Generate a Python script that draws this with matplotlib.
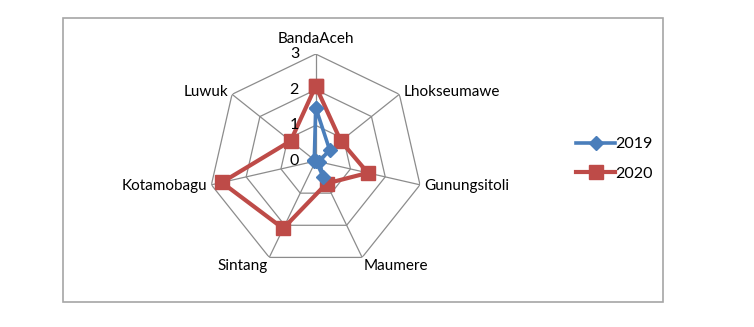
import numpy as np
import matplotlib
matplotlib.use("Agg")
import matplotlib.pyplot as plt
from matplotlib.patches import Rectangle

# data
categories = ["BandaAceh", "Lhokseumawe", "Gunungsitoli", "Maumere",
              "Sintang", "Kotamobagu", "Luwuk"]
values_2019 = [1.5, 0.5, 0.1, 0.5, 0.0, 0.05, 0.05]
values_2020 = [2.1, 0.9, 1.5, 0.7, 2.1, 2.7, 0.9]
rings = [0, 1, 2, 3]

plt.rcParams['font.family'] = ['Lato', 'DejaVu Sans']

n = len(categories)
angles = np.linspace(0, 2 * np.pi, n, endpoint=False)
closed = np.append(angles, angles[0])

fig = plt.figure(figsize=(7.54, 3.27), dpi=100)
fig.patch.set_facecolor("white")

# outer border of the chart area
fig.patches.append(Rectangle((63 / 754, 25 / 327), 600 / 754, 284 / 327,
                             transform=fig.transFigure, fill=False,
                             edgecolor="#a6a6a6", linewidth=1.2))

ax = fig.add_axes([0.2768, 0.1804, 0.2838, 0.6544], projection="polar")
ax.set_theta_offset(np.pi / 2)
ax.set_theta_direction(-1)
ax.set_ylim(0, 3)
ax.grid(False)
ax.spines["polar"].set_visible(False)
ax.set_xticks([])
ax.set_yticks([])
ax.patch.set_alpha(0)

# heptagon grid + spokes
for r in rings[1:]:
    ax.plot(closed, [r] * (n + 1), color="#8c8c8c", lw=0.9, zorder=1)
for a in angles:
    ax.plot([a, a], [0, rings[-1]], color="#8c8c8c", lw=0.9, zorder=1)

# radial value labels
for r in rings:
    ax.annotate(str(r), xy=(0, r), xytext=(-12, 0), textcoords="offset points",
                ha="right", va="center", fontsize=11.5)

# category labels
label_pos = [("center", "bottom", (0, 6)), ("left", "center", (3, 2)),
             ("left", "center", (3, -1)), ("left", "top", (1, -1)),
             ("right", "top", (-1, -1)), ("right", "center", (-3, -1)),
             ("right", "center", (-3, 2))]
for a, name, (ha, va, off) in zip(angles, categories, label_pos):
    ax.annotate(name, xy=(a, rings[-1]), xytext=off, textcoords="offset points",
                ha=ha, va=va, fontsize=11, annotation_clip=False)

l1, = ax.plot(closed, values_2019 + values_2019[:1], color="#4a7ebb", lw=2.6,
              marker="D", markersize=7, zorder=3, clip_on=False)
l2, = ax.plot(closed, values_2020 + values_2020[:1], color="#be4b48", lw=3,
              marker="s", markersize=10, zorder=2, clip_on=False)

fig.legend([l1, l2], ["2019", "2020"], loc="center left",
           bbox_to_anchor=(562 / 754, 1 - 159 / 327), frameon=False,
           fontsize=11.5, handlelength=2.4, handletextpad=0.0,
           labelspacing=0.95)

fig.savefig("out.png", dpi=100, facecolor="white")
